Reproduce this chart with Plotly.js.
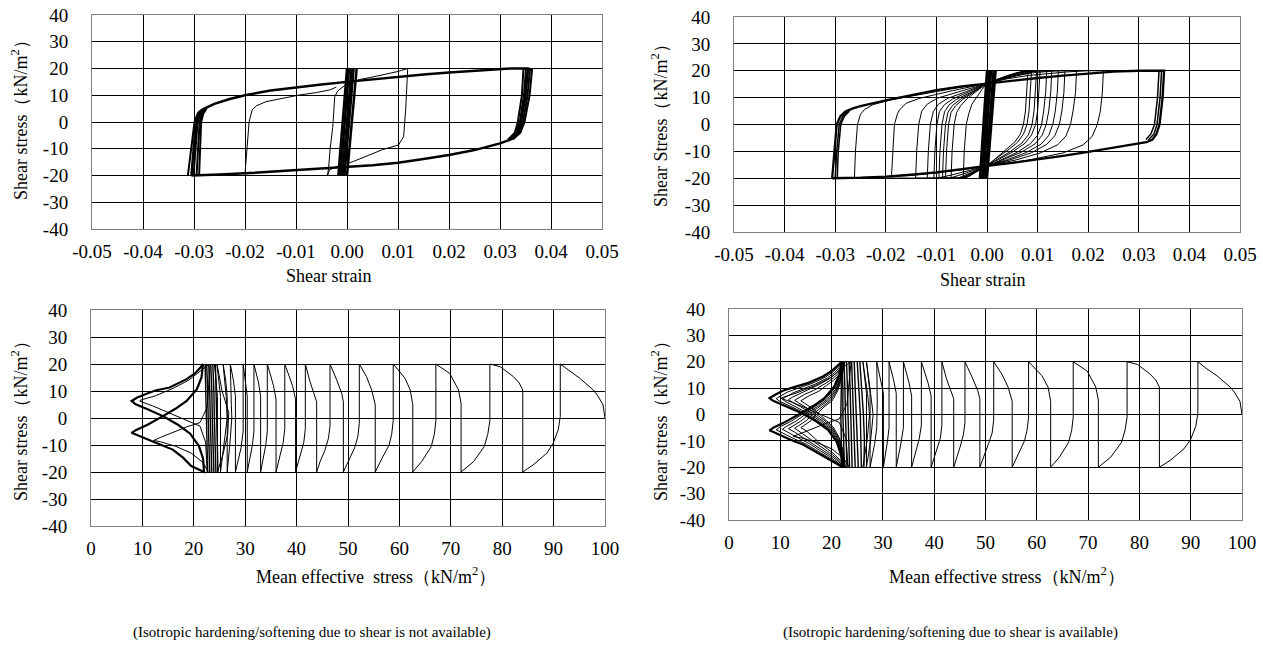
<!DOCTYPE html>
<html><head><meta charset="utf-8">
<script src="https://cdn.plot.ly/plotly-3.0.1.min.js"></script>
<style>html,body{margin:0;padding:0;background:#fff;}#chart{width:1263px;height:648px;}</style>
</head><body><div id="chart"></div>
<script>
// ---------- tick values / labels ----------
const strainTicks = [-0.05,-0.04,-0.03,-0.02,-0.01,0,0.01,0.02,0.03,0.04,0.05];
const strainTickText = ['-0.05','-0.04','-0.03','-0.02','-0.01','0.00','0.01','0.02','0.03','0.04','0.05'];
const stressTicks = [-40,-30,-20,-10,0,10,20,30,40];
const stressTickText = ['-40','-30','-20','-10','0','10','20','30','40'];
const pTicks = [0,10,20,30,40,50,60,70,80,90,100];
const pTickText = ['0','10','20','30','40','50','60','70','80','90','100'];

// ---------- top-left: shear strain vs shear stress (not available) ----------
const tlEnvelopeX = [-0.0305,-0.0302,-0.0298,-0.0293,-0.0288,-0.0280,-0.0260,-0.0230,-0.0200,-0.0150,-0.0100,-0.0050,0.0000,0.0050,0.0100,0.0150,0.0200,0.0250,0.0300,0.0320,0.0355,0.0350,0.0341,0.0335,0.0320,0.0300,0.0250,0.0200,0.0150,0.0100,0.0050,0.0000,-0.0050,-0.0100,-0.0150,-0.0200,-0.0250,-0.0305];
const tlEnvelopeY = [-20,-12,-4,2,4,5,6.8,8.6,10,11.8,13,14,15,16,17,17.8,18.5,19.1,19.7,20,20,10,0,-4,-6.6,-8,-10.5,-12.3,-13.8,-15.2,-16.2,-16.8,-17.5,-18.1,-18.6,-19.2,-19.6,-20];
const tlBandX = [[0.0363,0.0358,0.0348,0.0340,0.0325],[0.0359,0.0354,0.0345,0.0337,0.0322],[0.0351,0.0347,0.0339,0.0332,0.0318],[0.0346,0.0343,0.0335,0.0329,0.0316],
                 [-0.0312,-0.0305,-0.0299,-0.0292,-0.0280],[-0.0301,-0.0297,-0.0293,-0.0287,-0.0278],[-0.0295,-0.0292,-0.0289,-0.0284,-0.0276],[-0.0290,-0.0288,-0.0286,-0.0282,-0.0275]];
const tlBandY = [[20,10,0,-4,-6.5],[20,10,0,-4,-6.5],[20,10,0,-4,-6.5],[20,10,0,-4,-6.5],
                 [-20,-10,0,3.5,5],[-20,-10,0,3.2,5],[-20,-10,0,3.1,5.1],[-20,-10,0,3,5.2]];
const tlCentreX = [[-0.0017,0.0000],[-0.0013,0.0004],[-0.0009,0.0009],[-0.0005,0.0013],[0.0000,0.0019]];
const tlCentreY = [[-20,20],[-20,20],[-20,20],[-20,20],[-20,20]];
const tlThinX = [
  [-0.0038,-0.0036,-0.0033,-0.0028,-0.0024,-0.0018,0.0000,0.0025,0.0045,0.0075,0.0098,0.0119,0.0118,0.0115,0.0111,0.0101,0.0070,0.0012,-0.0021,-0.0034,-0.0038],
  [-0.0200,-0.0197,-0.0192,-0.0186,-0.0178,-0.0159,-0.0125,-0.0093,-0.0060,-0.0034,-0.0021]
];
const tlThinY = [
  [-19.8,-17,-10,-2,9.5,11.7,14.2,15.9,16.6,17.8,18.8,20,15.7,4.5,-5.5,-8.6,-10.3,-14.8,-16.7,-17.9,-19.8],
  [-19.3,-10.5,0,4.5,6,7.6,9,10.1,11,12,13]
];

// ---------- top-right: shear strain vs shear stress (available) ----------
const trEnvelopeX = [-0.0306,-0.0302,-0.0297,-0.0290,-0.0280,-0.0265,-0.0250,-0.0200,-0.0150,-0.0100,-0.0050,0.0000,0.0050,0.0100,0.0150,0.0200,0.0250,0.0300,0.0350,0.0347,0.0341,0.0335,0.0327,0.0315,0.0300,0.0250,0.0200,0.0150,0.0100,0.0050,0.0000,-0.0050,-0.0100,-0.0150,-0.0200,-0.0250,-0.0306];
const trEnvelopeY = [-20,-10,0,3,4.8,6,6.8,9,11,12.8,14.2,15.3,16.3,17.3,18.2,19,19.7,20,20,10,0,-3.5,-5.6,-6.6,-7.1,-8.6,-10.2,-11.7,-13.1,-14.3,-15.4,-16.7,-17.8,-18.7,-19.4,-19.8,-20];
const trBandX = [[-0.0300,-0.0297,-0.0292,-0.0285,-0.0275],[-0.0296,-0.0294,-0.0289,-0.0282,-0.0272],[0.0340,0.0337,0.0331,0.0324,0.0314],[0.0345,0.0342,0.0336,0.0330,0.0319]];
const trBandY = [[-20,-10,0,3,4.8],[-20,-10,0,3,5],[20,10,0,-3.5,-5.6],[20,10,0,-3.5,-5.8]];
const trCentreX = [[-0.0014,0.0000],[-0.0010,0.0004],[-0.0007,0.0008],[-0.0003,0.0013],[0.0000,0.0017]];
const trCentreY = [[-20,20],[-20,20],[-20,20],[-20,20],[-20,20]];
const trUpX = [
  [-0.0047,-0.0045,-0.0041,-0.0036,-0.0030,-0.0020,-0.0010,0.0000,0.0020,0.0040,0.0060,0.0078,0.0081],
  [-0.0071,-0.0069,-0.0065,-0.0060,-0.0052,-0.0040,-0.0020,0.0000,0.0020,0.0040,0.0060,0.0078,0.0088],
  [-0.0082,-0.0080,-0.0076,-0.0071,-0.0062,-0.0048,-0.0025,0.0000,0.0020,0.0040,0.0060,0.0080,0.0098],
  [-0.0088,-0.0086,-0.0082,-0.0077,-0.0068,-0.0053,-0.0028,0.0000,0.0020,0.0040,0.0060,0.0082,0.0105],
  [-0.0095,-0.0093,-0.0089,-0.0084,-0.0075,-0.0060,-0.0030,0.0000,0.0020,0.0040,0.0060,0.0085,0.0118],
  [-0.0105,-0.0103,-0.0099,-0.0094,-0.0084,-0.0068,-0.0035,0.0000,0.0025,0.0050,0.0070,0.0090,0.0128],
  [-0.0118,-0.0116,-0.0112,-0.0106,-0.0096,-0.0078,-0.0040,0.0000,0.0025,0.0050,0.0070,0.0095,0.0141],
  [-0.0141,-0.0139,-0.0135,-0.0129,-0.0118,-0.0098,-0.0050,0.0000,0.0030,0.0060,0.0080,0.0100,0.0154],
  [-0.0189,-0.0186,-0.0183,-0.0177,-0.0173,-0.0160,-0.0134,-0.0068,0.0000,0.0030,0.0060,0.0090,0.0120,0.0135,0.0177],
  [-0.0262,-0.0260,-0.0256,-0.0250,-0.0242,-0.0225,-0.0190,-0.0120,-0.0060,0.0000,0.0040,0.0080,0.0120,0.0160,0.0200,0.0230]
];
const trUpY = [
  [-20,-10,0,4,7.5,10.5,13,15.3,16.8,18.2,19.3,20,20],
  [-20,-10,0,4.5,7,9.5,12.5,15.3,16.8,18.2,19.3,20,20],
  [-20,-10,0,4.5,7,9.3,12.2,15.3,16.7,18.0,19.1,20,20],
  [-20,-10,0,4.6,7.1,9.3,12.1,15.3,16.7,18.0,19.1,20,20],
  [-20,-10,0,4.7,7.3,9.4,12.1,15.3,16.6,17.8,18.9,20,20],
  [-20,-10,0,4.8,7.4,9.5,12.2,15.3,16.8,18.1,19.0,20,20],
  [-20,-10,0,4.9,7.5,9.7,12.3,15.3,16.7,17.9,18.8,20,20],
  [-20,-10,0,5,7.6,9.8,12.5,15.3,16.8,18.2,19.0,20,20],
  [-20,-10,0,4,5.4,7.9,9.7,12.6,15.3,17,18.3,19.2,19.8,20,20],
  [-20,-10,0,3.8,5.6,7.4,9.2,11.6,13.6,15.3,17,18.2,19,19.6,20,20]
];
const trDownX = [
  [0.0081,0.0079,0.0076,0.0072,0.0066,0.0055,0.0035,0.0015,0.0000,-0.0020,-0.0035,-0.0045,-0.0071],
  [0.0088,0.0086,0.0083,0.0079,0.0072,0.0060,0.0038,0.0016,0.0000,-0.0020,-0.0035,-0.0047,-0.0082],
  [0.0098,0.0096,0.0093,0.0089,0.0082,0.0069,0.0045,0.0020,0.0000,-0.0020,-0.0036,-0.0048,-0.0088],
  [0.0105,0.0103,0.0100,0.0096,0.0088,0.0075,0.0050,0.0022,0.0000,-0.0021,-0.0037,-0.0050,-0.0095],
  [0.0118,0.0116,0.0112,0.0108,0.0100,0.0086,0.0060,0.0030,0.0000,-0.0022,-0.0038,-0.0052,-0.0105],
  [0.0128,0.0126,0.0122,0.0117,0.0109,0.0095,0.0068,0.0034,0.0000,-0.0023,-0.0040,-0.0055,-0.0118],
  [0.0141,0.0139,0.0135,0.0130,0.0122,0.0107,0.0078,0.0040,0.0000,-0.0024,-0.0042,-0.0058,-0.0141],
  [0.0154,0.0152,0.0148,0.0143,0.0134,0.0118,0.0088,0.0045,0.0000,-0.0030,-0.0055,-0.0075,-0.0189],
  [0.0177,0.0175,0.0170,0.0165,0.0156,0.0140,0.0105,0.0055,0.0000,-0.0040,-0.0070,-0.0100,-0.0262],
  [0.0230,0.0228,0.0224,0.0218,0.0208,0.0190,0.0150,0.0080,0.0000,-0.0050,-0.0100,-0.0150,-0.0200,-0.0296]
];
const trDownY = [
  [20,12,5,0,-3.5,-6.5,-9.8,-12.8,-15.4,-17.5,-19.2,-20,-20],
  [20,12,5,0,-3.6,-6.7,-10,-12.9,-15.4,-17.5,-19.2,-20,-20],
  [20,12,5,0,-3.8,-6.9,-10.2,-13,-15.4,-17.4,-19.1,-20,-20],
  [20,12,5,0,-3.9,-7,-10.3,-13.1,-15.4,-17.4,-19.1,-20,-20],
  [20,12,5,0,-4,-7.1,-10.3,-13,-15.4,-17.4,-19,-20,-20],
  [20,12,5,0,-4,-7.2,-10.3,-13,-15.4,-17.3,-19,-20,-20],
  [20,12,5,0,-4.1,-7.3,-10.4,-13.1,-15.4,-17.3,-18.9,-20,-20],
  [20,12,5,0,-4.2,-7.4,-10.5,-13.2,-15.4,-17.4,-18.9,-20,-20],
  [20,12,5,0,-4.3,-7.5,-10.6,-13.3,-15.4,-17.4,-18.8,-20,-20],
  [20,12,5,0,-4.4,-7.6,-10.6,-13.3,-15.4,-16.9,-18,-18.9,-19.5,-20]
];

// ---------- bottom-left: mean effective stress vs shear stress (not available) ----------
const blPathX = [100,99.6,98.5,97.7,95.1,93,91.3, 91.3,90.9,89.9,88.7,86,84, 84,83.3,82.2,79.6,77.6, 77.6,77.2,76.5,74.4,72, 72,71.5,69.8,67.1, 67.1,66.8,66.2,64.3,62.6, 62.6,62.1,61.1,58.8, 58.8,58.5,58,56.6,55.3, 55.3,54.6,53.6,52.2, 52.2,51.9,51.3,50.2,49.1, 49.1,48.8,47.8,46.5, 46.5,46.2,45.5,44.6,43.9, 43.9,43.3,42.6,41.7, 41.7,41.4,40.7,39.8, 39.8,39.2,37.7, 37.7,37.4,36.8,36.0, 36.0,35.5,34.3, 34.3,34.0,33.5,33.0, 33.0,32.6,31.7, 31.7,31.4,30.9,30.4, 30.4,30.1,29.6, 29.6,29.2,28.1, 28.1,27.7,27.1, 27.3,27.4,27.0,26.5, 26.5,26.2,25.7, 26.3,26.5,25.9,25.2, 25.2,24.9,24.5, 25.5,26.8,26.6,25.6,24.6, 24.6,24.3,24.0];
const blPathY = [0,5,8.5,10.4,14.7,17.5,20, 0.5,-4.4,-9.4,-13,-17.4,-20, 10.4,13,15.3,19,20, -1,-6,-10.6,-16.2,-20, 5.5,10.4,16.5,20, -1,-6,-10.6,-16.2,-20, 5,10.4,14.7,20, -1,-6,-10,-15,-20, 5,10.4,15.3,20, -2,-7,-11,-15.5,-20, 6,9,14.1,20, -3,-7.5,-12,-16,-20, 6,9.5,13.5,20, -4,-9,-14,-20, 7,12,20, -4,-9,-14,-20, 7,12,20, -5,-10,-15,-20, 8,13,20, -5,-10,-15,-20, 8,13,20, -5,-11,-20, 8,14,20, 5,0,-10,-20, 8,14,20, 8,0,-10,-20, 8,14,20, 10,2,-6,-14,-20, 8,15,20];
const blBandX = [[23.9,23.7,23.6,23.5,23.3],[23.5,23.3,23.2,23.1,22.9],[23.1,22.9,22.8,22.7,22.5],[24.3,24.1,24.0,23.9,23.7],[22.7,22.6,22.5,22.4,22.2],[24.7,24.6,24.5,24.4,24.2]];
const blBandY = [[-20,-10,0,10,20],[-20,-10,0,10,20],[-20,-10,0,10,20],[-20,-10,0,10,20],[-20,-10,0,10,20],[-20,-10,0,10,20]];
const blButterflyX = [[21.8,21.2,20.2,18.6,15.3,12.5,10.8,9.0,7.9,8.6,11.0,14.0,17.0,19.3,21.0,21.8,22.0,20.5,19.5,17.9,15.9,12.6,9.5,7.9,8.8,11.0,14.0,16.5,18.6,20.6,21.5,21.8]];
const blButterflyY = [[20,18.5,16.5,14.4,11.3,10.2,9.0,7.6,6.3,5.2,3.2,0.7,-2.6,-5.8,-10.4,-15,-20,-18.8,-17.8,-14.7,-11.7,-9.2,-6.8,-5.5,-4.4,-2.5,0.7,3.5,6.3,10.7,15,20]];
const blThinX = [[22.8,21.8,19.5,16.5,13.5,12.2,13.5,16,18.6,21.2,22.6,23.2],[23.0,21.5,19.0,16.0,12.5,9.6,9.5,12.0,15.5,18.6,21.2,22.3,22.6]];
const blThinY = [[-20,-16.5,-13,-10.5,-8.8,-8.3,-7.2,-5.2,-3.3,-1.7,4,20],[20,17.8,14.0,11.0,8.2,6.6,6.2,4.5,1.7,-1.0,-3.0,-9,-20]];

// ---------- bottom-right: mean effective stress vs shear stress (available) ----------
const brPathX = [100,99.6,98.5,97.7,95.1,93,91.4, 91.4,91,90,88.7,86,83.9, 83.9,83.2,82.1,79.6,77.6, 77.6,77.2,76.5,74.4,72, 72,71.5,69.8,67.1, 67.1,66.8,66.2,64.4,62.7, 62.7,62.2,61,58.4, 58.4,58.1,57.6,56.4,55.2, 55.2,54.4,53.2,51.6, 51.6,51.3,50.6,49.8,48.9, 48.9,48.5,47.4,46.0, 46.0,45.7,45.1,44.4,43.8, 43.8,43.2,42.4,41.5, 41.5,41.2,40.4,39.4, 39.4,38.8,37.5, 37.5,37.1,36.4,35.6, 35.6,35.1,34.0, 34.0,33.6,33.1,32.6, 32.6,32.1,31.2, 31.2,30.9,30.5,30.1, 30.1,29.6,28.8, 28.9,28.8,28.4,27.5, 27.5,27.2,26.8, 27.6,28.1,27.6,26.8, 26.8,26.5,26.1, 27.0,27.4,26.9,26.1];
const brPathY = [0,5,8.5,10.4,14.7,17.5,20, 0.5,-4.4,-9.4,-13,-17.4,-20, 10.4,13,15.3,19,20, -1,-6,-10.6,-16.2,-20, 5.5,10.4,16.5,20, -1,-6,-10.6,-16.2,-20, 5,10.4,14.7,20, -1,-6,-10,-15,-20, 5,10.4,15.3,20, -2,-7,-11,-15.5,-20, 6,9,14.1,20, -3,-7.5,-12,-16,-20, 6,9.5,13.5,20, -4,-9,-14,-20, 7,12,20, -4,-9,-14,-20, 7,12,20, -5,-10,-15,-20, 8,13,20, -5,-10,-15,-20, 8,13,20, 5,-5,-11,-20, 8,14,20, 8,0,-10,-20, 8,14,20, 8,0,-10,-20];
const brBandX = [[22.0,21.9,21.8,21.9,21.7],[22.5,22.3,22.2,22.2,22.0],[23.0,22.8,22.7,22.6,22.4],[23.5,23.3,23.2,23.1,22.9],[24.0,23.9,23.8,23.6,23.4],[24.6,24.4,24.3,24.1,23.9],[25.2,25.0,24.9,24.7,24.4],[25.8,25.7,25.6,25.3,25.0],[26.3,26.4,26.2,25.9,25.5]];
const brBandY = [[-20,-10,0,10,20],[-20,-10,0,10,20],[-20,-10,0,10,20],[-20,-10,0,10,20],[-20,-10,0,10,20],[-20,-10,0,10,20],[-20,-10,0,10,20],[-20,-10,0,10,20],[-20,-10,0,10,20]];
const brButterflyX = [
  [22.0,21.2,20.0,18.4,15.5,12.5,10.5,9.0,7.9,8.6,11.0,14.0,17.0,19.3,21.0,21.8,22.2,20.8,19.0,17.0,14.5,12.0,9.5,7.9,8.8,11.0,14.0,16.5,18.6,20.5,21.5,22.0],
  [22.2,21.4,20.3,18.8,16.2,13.5,11.5,10.1,9.2,9.9,12.0,14.6,17.3,19.5,21.1,21.9,22.3,21.0,19.3,17.4,15.1,12.8,10.6,9.2,10.0,12.0,14.6,16.9,18.9,20.7,21.6,22.2],
  [22.3,21.6,20.6,19.2,16.9,14.5,12.5,11.2,10.4,11.1,13.0,15.2,17.7,19.7,21.2,22.0,22.4,21.2,19.6,17.8,15.7,13.6,11.7,10.4,11.2,13.0,15.2,17.3,19.2,20.9,21.7,22.3],
  [22.4,21.8,20.9,19.6,17.6,15.5,13.6,12.4,11.6,12.3,14.0,15.9,18.1,19.9,21.3,22.1,22.5,21.4,19.9,18.2,16.3,14.4,12.8,11.6,12.4,14.0,15.9,17.7,19.5,21.0,21.8,22.4],
  [22.5,22.0,21.2,20.0,18.3,16.5,14.7,13.6,12.8,13.5,15.0,16.6,18.5,20.1,21.4,22.2,22.6,21.6,20.2,18.6,16.9,15.3,13.9,12.8,13.6,15.0,16.6,18.1,19.8,21.1,21.9,22.5],
  [22.6,22.2,21.5,20.4,19.0,17.5,15.8,14.8,14.0,14.7,16.0,17.3,18.9,20.3,21.5,22.3,22.7,21.8,20.5,19.0,17.5,16.2,15.0,14.0,14.8,16.0,17.3,18.5,20.1,21.2,22.0,22.6]
];
const brButterflyY = [
  [20,18.5,16.5,14.5,12.0,10.3,9.0,7.5,6.2,5.2,3.2,0.7,-2.6,-5.8,-10.4,-15,-20,-18.5,-16.5,-14.2,-11.5,-9.6,-7.5,-6.0,-4.8,-2.8,0.5,3.3,6.2,10.5,15,20],
  [20,18.3,16.2,14.2,11.8,10.0,8.6,7.1,6.0,5.0,3.1,0.7,-2.4,-5.5,-10,-14.8,-20,-18.3,-16.2,-14,-11.3,-9.3,-7.2,-5.8,-4.6,-2.7,0.5,3.2,6.0,10.2,14.8,20],
  [20,18.1,15.9,13.9,11.6,9.7,8.2,6.8,5.8,4.8,3.0,0.7,-2.3,-5.3,-9.7,-14.6,-20,-18.1,-15.9,-13.7,-11.1,-9.0,-6.9,-5.6,-4.5,-2.6,0.5,3.1,5.8,9.9,14.6,20],
  [20,17.9,15.6,13.6,11.4,9.4,7.9,6.6,5.6,4.7,2.9,0.7,-2.2,-5.1,-9.4,-14.4,-20,-17.9,-15.6,-13.4,-10.9,-8.7,-6.7,-5.4,-4.4,-2.5,0.5,3.0,5.6,9.6,14.4,20],
  [20,17.7,15.3,13.3,11.2,9.1,7.6,6.3,5.4,4.5,2.8,0.7,-2.1,-4.9,-9.1,-14.2,-20,-17.7,-15.3,-13.1,-10.7,-8.4,-6.4,-5.2,-4.2,-2.4,0.5,2.9,5.4,9.3,14.2,20],
  [20,17.5,15.0,13.0,11.0,8.8,7.3,6.0,5.2,4.3,2.7,0.7,-2.0,-4.7,-8.8,-14,-20,-17.5,-15.0,-12.8,-10.5,-8.1,-6.1,-5.0,-4.0,-2.3,0.5,2.8,5.2,9.0,14,20]
];
const brThinX = [[23.5,22.3,20,17,14,12.5,14,16.5,19,21.5,23,23.8],[23.8,22.2,19.8,16.8,13.2,10.2,10.0,12.5,16,19,21.5,22.8,23.2]];
const brThinY = [[-20,-16.5,-13,-10.5,-8.8,-8.3,-7.2,-5.2,-3.3,-1.7,4,20],[20,17.8,14.0,11.0,8.2,6.6,6.2,4.5,1.7,-1.0,-3.0,-9,-20]];

// ---------- text ----------
const captionLeft = '(Isotropic hardening/softening due to shear is not available)';
const captionRight = '(Isotropic hardening/softening due to shear is available)';

// ---------- build ----------
const W = 1263, H = 648;
const FONT = 'Liberation Serif';
const traces = [];
function addSet(xs, ys, ax, width) {
  for (let i = 0; i < xs.length; i++) {
    traces.push({type:'scatter', mode:'lines', x:xs[i], y:ys[i], xaxis:'x'+ax, yaxis:'y'+ax,
      line:{color:'#000', width:width}, hoverinfo:'skip', showlegend:false});
  }
}
// top-left
addSet(tlThinX, tlThinY, '', 1);
addSet([tlEnvelopeX], [tlEnvelopeY], '', 2.5);
addSet(tlBandX, tlBandY, '', 2);
addSet(tlCentreX, tlCentreY, '', 2.5);
// top-right
addSet(trUpX, trUpY, '2', 1);
addSet(trDownX, trDownY, '2', 1);
addSet([trEnvelopeX], [trEnvelopeY], '2', 2.3);
addSet(trBandX, trBandY, '2', 1.5);
addSet(trCentreX, trCentreY, '2', 2.5);
// bottom-left
addSet([blPathX], [blPathY], '3', 1);
addSet(blBandX, blBandY, '3', 1.4);
addSet(blThinX, blThinY, '3', 1);
addSet(blButterflyX, blButterflyY, '3', 2.2);
// bottom-right
addSet([brPathX], [brPathY], '4', 1);
addSet(brBandX, brBandY, '4', 1.4);
addSet(brThinX, brThinY, '4', 1);
addSet(brButterflyX.slice(1), brButterflyY.slice(1), '4', 1);
addSet(brButterflyX.slice(0,1), brButterflyY.slice(0,1), '4', 2.2);

function dx(a, b) { return [a / W, b / W]; }
function dy(top, bottom) { return [1 - bottom / H, 1 - top / H]; }
function xAxis(dom, ticks, text, range, zl) {
  return {domain:dom, range:range, tickmode:'array', tickvals:ticks, ticktext:text,
    showgrid:true, gridcolor:'#000', gridwidth:1, zeroline:zl, zerolinecolor:'#000', zerolinewidth:1,
    showline:true, linecolor:'#7f7f7f', linewidth:1, mirror:true, ticks:'',
    ticklabelstandoff:5, tickfont:{family:FONT, size:19, color:'#000'}, fixedrange:true};
}
function yAxis(dom) {
  return {domain:dom, range:[-40,40], tickmode:'array', tickvals:stressTicks, ticktext:stressTickText,
    showgrid:true, gridcolor:'#000', gridwidth:1, zeroline:true, zerolinecolor:'#000', zerolinewidth:1,
    showline:true, linecolor:'#7f7f7f', linewidth:1, mirror:true, ticks:'',
    ticklabelstandoff:19, tickfont:{family:FONT, size:19, color:'#000'}, fixedrange:true};
}
function ann(text, x, y, size, angle) {
  return {text:text, x:x / W, y:1 - y / H, xref:'paper', yref:'paper', showarrow:false,
    xanchor:'center', yanchor:'middle', textangle:angle || 0,
    font:{family:FONT, size:size, color:'#000'}};
}
const layout = {
  width:W, height:H, margin:{l:0, r:0, t:0, b:0}, paper_bgcolor:'#fff', plot_bgcolor:'#fff', showlegend:false,
  font:{family:FONT, color:'#000'},
  xaxis: Object.assign(xAxis(dx(92,602), strainTicks, strainTickText, [-0.05,0.05], true), {anchor:'y'}),
  yaxis: Object.assign(yAxis(dy(15,229)), {anchor:'x'}),
  xaxis2: Object.assign(xAxis(dx(734,1240), strainTicks, strainTickText, [-0.05,0.05], true), {anchor:'y2'}),
  yaxis2: Object.assign(yAxis(dy(17,232)), {anchor:'x2'}),
  xaxis3: Object.assign(xAxis(dx(91,605), pTicks, pTickText, [0,100], false), {anchor:'y3'}),
  yaxis3: Object.assign(yAxis(dy(310,526)), {anchor:'x3'}),
  xaxis4: Object.assign(xAxis(dx(729,1242), pTicks, pTickText, [0,100], false), {anchor:'y4'}),
  yaxis4: Object.assign(yAxis(dy(309,520)), {anchor:'x4'}),
  annotations: [
    ann('Shear stress（kN/m<sup>2</sup>）', 19, 116, 18, -90),
    ann('Shear Stress（kN/m<sup>2</sup>）', 659, 121, 18, -90),
    ann('Shear stress（kN/m<sup>2</sup>）', 19, 417, 18, -90),
    ann('Shear stress（kN/m<sup>2</sup>）', 659, 417, 18, -90),
    ann('Shear strain', 328, 276, 18),
    ann('Shear strain', 982, 280, 18),
    ann('Mean effective\u00a0 stress（kN/m<sup>2</sup>）', 376, 575, 18),
    ann('Mean effective stress（kN/m<sup>2</sup>）', 1007, 575, 18),
    ann(captionLeft, 312, 632, 15),
    ann(captionRight, 950, 632, 15)
  ]
};
Plotly.newPlot('chart', traces, layout, {staticPlot:true, displayModeBar:false});
</script></body></html>
